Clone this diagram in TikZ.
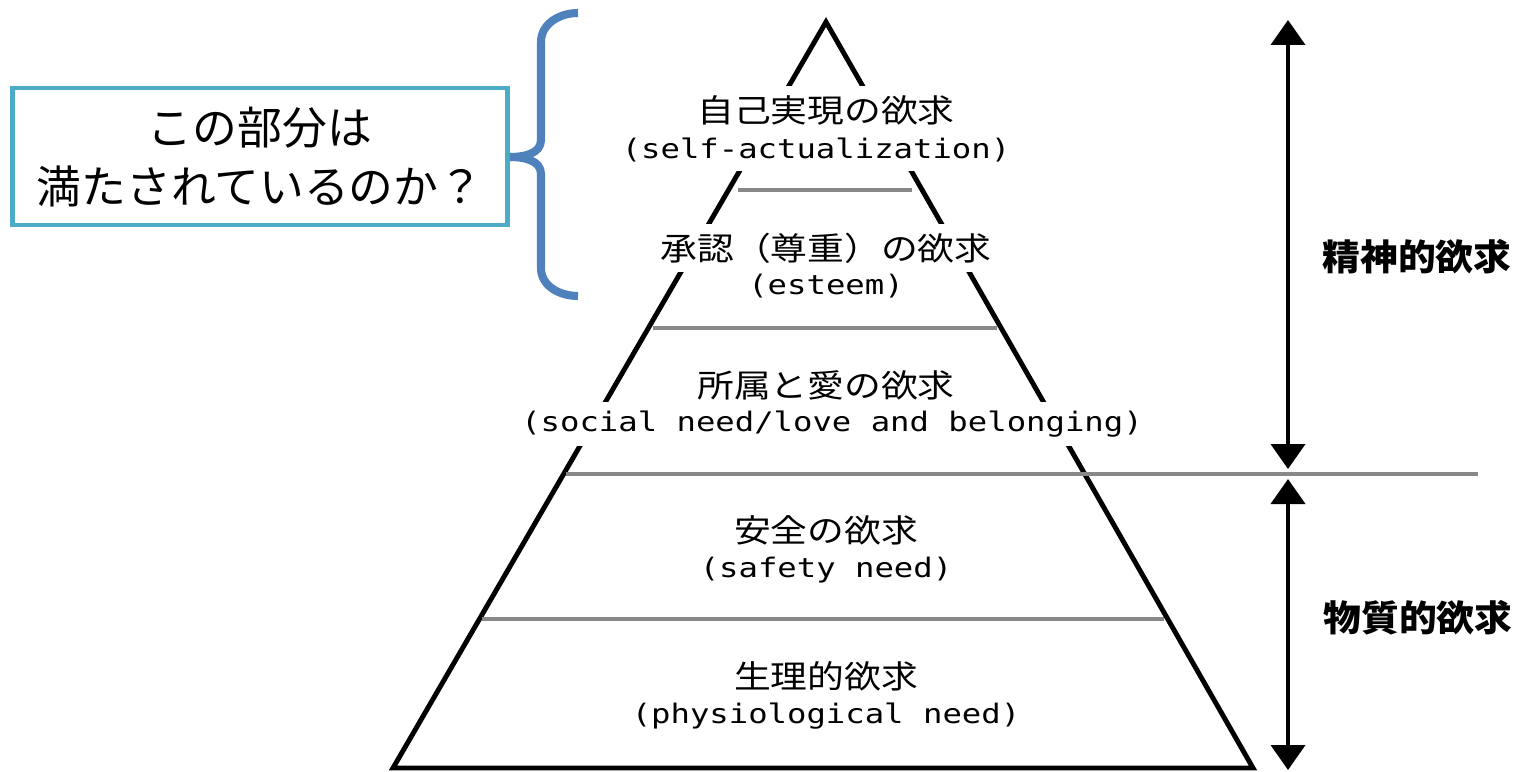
\documentclass[tikz,border=0pt]{standalone}
\usepackage{fontspec}
\newfontfamily\jpfont[FakeStretch=1.15]{Noto Sans CJK JP}
\newfontfamily\jpside[FakeStretch=1.05]{Noto Sans CJK JP}
\newfontfamily\jpplain{Noto Sans CJK JP}
\newfontfamily\enfont[FakeStretch=1.2]{DejaVu Sans Mono}
\usetikzlibrary{arrows.meta}
\definecolor{lvgray}{RGB}{136,136,136}
\definecolor{calloutc}{RGB}{75,172,198}
\definecolor{bracec}{RGB}{79,129,189}
\tikzset{
  pyr/.style={line width=2.8pt, black, line join=miter},
  lvline/.style={line width=2.8pt, lvgray},
  jptxt/.style={font=\jpfont\fontsize{18.2}{20}\selectfont, fill=white, inner xsep=3pt, inner ysep=5pt},
  entxt/.style={font=\enfont\fontsize{15.3}{17}\selectfont, fill=white, inner xsep=3pt, inner ysep=5pt},
  sidetxt/.style={font=\jpside\bfseries\fontsize{20.5}{22}\selectfont, inner sep=0pt},
  dimarrow/.style={line width=2.3pt, black, {Triangle[width=0.68cm,length=0.5cm]}-{Triangle[width=0.68cm,length=0.5cm]}},
  callout/.style={draw=calloutc, line width=2.8pt, fill=white, minimum width=9.92cm, minimum height=2.74cm, inner sep=0pt},
  callouttxt/.style={font=\jpplain\fontsize{25.5}{32}\selectfont, align=center, inner sep=0pt},
  bracestyle/.style={draw=bracec, line width=4.6pt, line cap=butt, line join=round}
}
\begin{document}
\begin{tikzpicture}[x=0.02cm, y=-0.02cm]
\useasboundingbox (0,0) rectangle (1517,771);
% pyramid
\coordinate (A) at (826,22);
\coordinate (BL) at (393,768);
\coordinate (BR) at (1253,768);
\draw[pyr] (A) -- (BL) -- (BR) -- cycle;
% level lines
\coordinate (L1a) at (738,190); \coordinate (L1b) at (912,190);
\coordinate (L2a) at (653,328); \coordinate (L2b) at (997,328);
\coordinate (L3a) at (566,474); \coordinate (L3b) at (1478,474);
\coordinate (L4a) at (482,619); \coordinate (L4b) at (1164,619);
\draw[lvline] (L1a) -- (L1b);
\draw[lvline] (L2a) -- (L2b);
\draw[lvline] (L3a) -- (L3b);
\draw[lvline] (L4a) -- (L4b);
% texts
\node[jptxt] (j1) at (826,110) {自己実現の欲求};
\node[entxt] (e1) at (816,150) {(self-actualization)};
\node[jptxt] (j2) at (826,248) {承認（尊重）の欲求};
\node[entxt] (e2) at (826,286) {(esteem)};
\node[jptxt] (j3) at (826,385) {所属と愛の欲求};
\node[entxt] (e3) at (832,424) {(social need/love and belonging)};
\node[jptxt] (j4) at (826,530) {安全の欲求};
\node[entxt] (e4) at (826,570) {(safety need)};
\node[jptxt] (j5) at (826,676) {生理的欲求};
\node[entxt] (e5) at (826,716) {(physiological need)};
% right arrows
\coordinate (ta) at (1288,20);
\coordinate (tb) at (1288,469);
\coordinate (tc) at (1288,479);
\coordinate (td) at (1288,770);
\draw[dimarrow] (ta) -- (tb);
\draw[dimarrow] (tc) -- (td);
\node[sidetxt] (s1) at (1417,257) {精神的欲求};
\node[sidetxt] (s2) at (1418,618) {物質的欲求};
% callout
\node[callout] (box) at (260,156.5) {};
\node[callouttxt] (ct1) at (260,128) {この部分は};
\node[callouttxt] (ct2) at (260,186) {満たされているのか？};
% brace
\coordinate (b1) at (578,13);
\coordinate (b2) at (541,42);
\coordinate (b3) at (541,140);
\coordinate (b4) at (510,157);
\coordinate (b5) at (541,174);
\coordinate (b6) at (541,268);
\coordinate (b7) at (578,296);
\draw[bracestyle] (b1) to[out=180,in=90] (b2) -- (b3) to[out=-90,in=0] (b4);
\draw[bracestyle] (b4) to[out=0,in=90] (b5) -- (b6) to[out=-90,in=180] (b7);
\end{tikzpicture}
\end{document}
